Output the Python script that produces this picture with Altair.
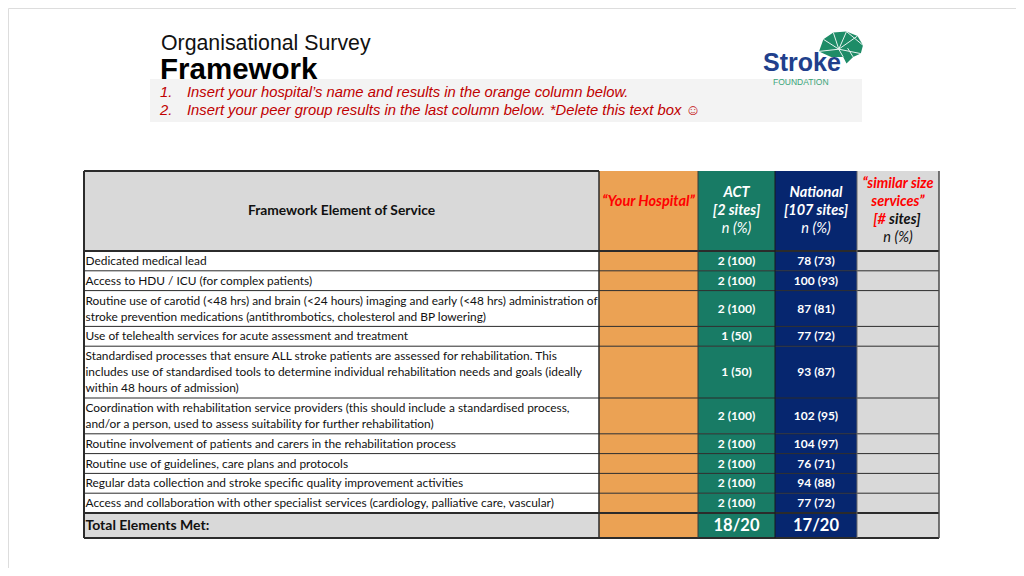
import altair as alt
import pandas as pd

# ---------------- data ----------------
elements = [
    ["Dedicated medical lead"],
    ["Access to HDU / ICU (for complex patients)"],
    ["Routine use of carotid (<48 hrs) and brain (<24 hours) imaging and early (<48 hrs) administration of",
     "stroke prevention medications (antithrombotics, cholesterol and BP lowering)"],
    ["Use of telehealth services for acute assessment and treatment"],
    ["Standardised processes that ensure ALL stroke patients are assessed for rehabilitation. This",
     "includes use of standardised tools to determine individual rehabilitation needs and goals (ideally",
     "within 48 hours of admission)"],
    ["Coordination with rehabilitation service providers (this should include a standardised process,",
     "and/or a person, used to assess suitability for further rehabilitation)"],
    ["Routine involvement of patients and carers in the rehabilitation process"],
    ["Routine use of guidelines, care plans and protocols"],
    ["Regular data collection and stroke specific quality improvement activities"],
    ["Access and collaboration with other specialist services (cardiology, palliative care, vascular)"],
]
act_values = ["2 (100)", "2 (100)", "2 (100)", "1 (50)", "1 (50)",
              "2 (100)", "2 (100)", "2 (100)", "2 (100)", "2 (100)"]
national_values = ["78 (73)", "100 (93)", "87 (81)", "77 (72)", "93 (87)",
                   "102 (95)", "104 (97)", "76 (71)", "94 (88)", "77 (72)"]
total_label = "Total Elements Met:"
total_act = "18/20"
total_national = "17/20"

title_1 = "Organisational Survey"
title_2 = "Framework"
instructions = ["Insert your hospital\u2019s name and results in the orange column below.",
                "Insert your peer group results in the last column below. *Delete this text box \u263A"]

# ---------------- layout ----------------
COL = [84, 599, 698, 775, 857, 939]
HEAD_TOP, HEAD_BOT = 171, 251
LINE_H, ROW_PAD, TOTAL_H = 16, 3.8, 25

ORANGE, GREEN, NAVY, GREY, WHITE = "#EBA254", "#187B65", "#06266F", "#D9D9D9", "#FFFFFF"
RED = "#FF0000"
INSTR_RED = "#C00000"
LINE = "#2b2b2b"
TXT = "Lato"

row_tops, row_bots = [], []
t = HEAD_BOT
for e in elements:
    row_tops.append(t)
    t = t + ROW_PAD + LINE_H * len(e)
    row_bots.append(t)
total_top, total_bot = t, t + TOTAL_H

X = lambda f="x": alt.X(f"{f}:Q", scale=alt.Scale(domain=[8, 1016], nice=False, zero=False), axis=None)
Y = lambda f="y": alt.Y(f"{f}:Q", scale=alt.Scale(domain=[568, 8], nice=False, zero=False), axis=None)

# ---------------- cells ----------------
cells = []
head_fill = [GREY, ORANGE, GREEN, NAVY, GREY]
body_fill = [WHITE, ORANGE, GREEN, NAVY, GREY]
total_fill = [GREY, ORANGE, GREEN, NAVY, GREY]
for c in range(5):
    cells.append(dict(x=COL[c], x2=COL[c + 1], y=HEAD_TOP, y2=HEAD_BOT, fill=head_fill[c]))
    for i in range(len(elements)):
        cells.append(dict(x=COL[c], x2=COL[c + 1], y=row_tops[i], y2=row_bots[i], fill=body_fill[c]))
    cells.append(dict(x=COL[c], x2=COL[c + 1], y=total_top, y2=total_bot, fill=total_fill[c]))
# instruction band
cells.insert(0, dict(x=150, x2=862, y=79, y2=122, fill="#F3F3F3"))

cells_layer = alt.Chart(pd.DataFrame(cells)).mark_rect(strokeWidth=0).encode(
    x=X(), x2="x2:Q", y=Y(), y2="y2:Q", fill=alt.Fill("fill:N", scale=None))

# ---------------- grid lines ----------------
lines = []
lines.append(dict(x=COL[0], x2=COL[1], y=HEAD_TOP, y2=HEAD_TOP, w=2, c=LINE))
lines.append(dict(x=COL[0], x2=COL[5], y=HEAD_BOT, y2=HEAD_BOT, w=2, c=LINE))
for b in row_bots[:-1]:
    lines.append(dict(x=COL[0], x2=COL[5], y=b, y2=b, w=1, c=LINE))
lines.append(dict(x=COL[0], x2=COL[5], y=total_top, y2=total_top, w=2, c=LINE))
lines.append(dict(x=COL[0], x2=COL[5], y=total_bot, y2=total_bot, w=2, c=LINE))
lines.append(dict(x=COL[0], x2=COL[0], y=HEAD_TOP, y2=total_bot, w=2, c=LINE))
lines.append(dict(x=COL[1], x2=COL[1], y=HEAD_TOP, y2=total_bot, w=1.5, c=LINE))
lines.append(dict(x=COL[2], x2=COL[2], y=HEAD_TOP, y2=total_bot, w=1, c="#3a3a3a"))
lines.append(dict(x=COL[3], x2=COL[3], y=HEAD_TOP, y2=total_bot, w=1, c="#1a1a1a"))
lines.append(dict(x=COL[4], x2=COL[4], y=HEAD_TOP, y2=total_bot, w=1, c="#6a6a6a"))
lines.append(dict(x=COL[5], x2=COL[5], y=HEAD_TOP, y2=total_bot, w=1.5, c="#4a4a4a"))

lines_layer = alt.Chart(pd.DataFrame(lines)).mark_rule().encode(
    x=X(), x2="x2:Q", y=Y(), y2="y2:Q",
    strokeWidth=alt.StrokeWidth("w:Q", scale=None),
    color=alt.Color("c:N", scale=None))

# ---------------- body text ----------------
desc_df = pd.DataFrame(dict(
    x=[COL[0] + 1.5] * len(elements),
    y=[(a + b) / 2 - (len(e) - 1) * LINE_H / 2 for a, b, e in zip(row_tops, row_bots, elements)],
    t=elements))
desc_layer = alt.Chart(desc_df).mark_text(
    align="left", baseline="middle", font=TXT, fontSize=11.9, lineHeight=LINE_H, color="#111111"
).encode(x=X(), y=Y(), text="t")

vals = []
for i in range(len(elements)):
    cy = (row_tops[i] + row_bots[i]) / 2
    vals.append(dict(x=(COL[2] + COL[3]) / 2, y=cy, t=act_values[i]))
    vals.append(dict(x=(COL[3] + COL[4]) / 2, y=cy, t=national_values[i]))
vals_layer = alt.Chart(pd.DataFrame(vals)).mark_text(
    align="center", baseline="middle", font=TXT, fontSize=12, fontWeight="bold", color="white"
).encode(x=X(), y=Y(), text="t:N")

tcy = (total_top + total_bot) / 2
totals_df = pd.DataFrame([dict(x=(COL[2] + COL[3]) / 2, y=tcy, t=total_act),
                          dict(x=(COL[3] + COL[4]) / 2, y=tcy, t=total_national)])
totals_layer = alt.Chart(totals_df).mark_text(
    align="center", baseline="middle", font=TXT, fontSize=16.5, fontWeight="bold", color="white"
).encode(x=X(), y=Y(), text="t:N")

total_lbl_layer = alt.Chart(pd.DataFrame([dict(x=COL[0] + 1.5, y=tcy + 0.5, t=total_label)])).mark_text(
    align="left", baseline="middle", font=TXT, fontSize=14, fontWeight="bold", color="#111111"
).encode(x=X(), y=Y(), text="t:N")

# ---------------- header text ----------------
hc = (HEAD_TOP + HEAD_BOT) / 2
head_bold = pd.DataFrame([
    dict(x=(COL[0] + COL[1]) / 2, y=hc, t="Framework Element of Service", c="#111111"),
])
head_bold_layer = alt.Chart(head_bold).mark_text(
    align="center", baseline="middle", font=TXT, fontSize=13.8, fontWeight="bold"
).encode(x=X(), y=Y(), text="t:N", color=alt.Color("c:N", scale=None))

cx = [(COL[i] + COL[i + 1]) / 2 for i in range(5)]
head_bi = pd.DataFrame([
    dict(x=cx[1], y=hc - 9, t="\u201cYour Hospital\u201d", c=RED),
    dict(x=cx[2], y=hc - 18, t="ACT", c="white"),
    dict(x=cx[2], y=hc, t="[2 sites]", c="white"),
    dict(x=cx[3], y=hc - 18, t="National", c="white"),
    dict(x=cx[3], y=hc, t="[107 sites]", c="white"),
    dict(x=cx[4], y=hc - 27, t="\u201csimilar size", c=RED),
    dict(x=cx[4], y=hc - 9, t="services\u201d", c=RED),
])
head_bi_layer = alt.Chart(head_bi).mark_text(
    align="center", baseline="middle", font=TXT, fontSize=14.5, fontWeight="bold", fontStyle="italic"
).encode(x=X(), y=Y(), text="t:N", color=alt.Color("c:N", scale=None))

sites_r = alt.Chart(pd.DataFrame([dict(x=cx[4] - 12, y=hc + 9, t="[#", c=RED)])).mark_text(
    align="right", baseline="middle", font=TXT, fontSize=14.5, fontWeight="bold", fontStyle="italic"
).encode(x=X(), y=Y(), text="t:N", color=alt.Color("c:N", scale=None))
sites_l = alt.Chart(pd.DataFrame([dict(x=cx[4] - 9, y=hc + 9, t="sites]", c="#111111")])).mark_text(
    align="left", baseline="middle", font=TXT, fontSize=14.5, fontWeight="bold", fontStyle="italic"
).encode(x=X(), y=Y(), text="t:N", color=alt.Color("c:N", scale=None))

head_it = pd.DataFrame([
    dict(x=cx[2], y=hc + 18, t="n (%)", c="white"),
    dict(x=cx[3], y=hc + 18, t="n (%)", c="white"),
    dict(x=cx[4], y=hc + 27, t="n (%)", c="#111111"),
])
head_it_layer = alt.Chart(head_it).mark_text(
    align="center", baseline="middle", font=TXT, fontSize=14.5, fontStyle="italic"
).encode(x=X(), y=Y(), text="t:N", color=alt.Color("c:N", scale=None))

# ---------------- title block ----------------
t1 = alt.Chart(pd.DataFrame([dict(x=161, y=50, t=title_1)])).mark_text(
    align="left", baseline="alphabetic", font="Liberation Sans", fontSize=21.3, color="#111111"
).encode(x=X(), y=Y(), text="t:N")
t2 = alt.Chart(pd.DataFrame([dict(x=160, y=79, t=title_2)])).mark_text(
    align="left", baseline="alphabetic", font="Liberation Sans", fontSize=29.5, fontWeight="bold", color="#000000"
).encode(x=X(), y=Y(), text="t:N")
instr_df = pd.DataFrame([
    dict(x=160, y=97, t="1."), dict(x=187, y=97, t=instructions[0]),
    dict(x=160, y=115, t="2."), dict(x=187, y=115, t=instructions[1]),
])
instr = alt.Chart(instr_df).mark_text(
    align="left", baseline="alphabetic", font="Liberation Sans", fontSize=14.8, fontStyle="italic", color=INSTR_RED
).encode(x=X(), y=Y(), text="t:N")

# ---------------- logo ----------------
brain_path = ("M -1 0.2 L -0.8 -0.35 L -0.35 -0.66 L 0.25 -0.7 L 0.75 -0.5 L 1 -0.08 "
              "L 0.9 0.3 L 0.55 0.45 L 0.25 0.75 L 0.1 0.45 L -0.45 0.45 Z")
brain_lines = ("M -0.8 -0.35 L -0.1 0.1 L 0.25 -0.7 M -0.35 -0.66 L -0.1 0.1 L 0.75 -0.5 "
               "M -0.1 0.1 L 0.9 0.3 M -1 0.2 L -0.1 0.1 L 0.1 0.45 M 0.25 -0.7 L 1 -0.08 "
               "M 0.3 0.05 L 0.55 0.45")
logo_pt = pd.DataFrame([dict(x=841, y=47)])
brain = alt.Chart(logo_pt).mark_point(
    shape=brain_path, filled=True, fill="#1E8C67", size=1936, opacity=1, strokeWidth=0
).encode(x=X(), y=Y())
brain_l = alt.Chart(logo_pt).mark_point(
    shape=brain_lines, filled=False, stroke="white", strokeWidth=1, size=1936, opacity=0.9
).encode(x=X(), y=Y())
stroke_txt = alt.Chart(pd.DataFrame([dict(x=763, y=71, t="Stroke")])).mark_text(
    align="left", baseline="alphabetic", font="Liberation Sans", fontSize=25, fontWeight="bold", color="#213F8C"
).encode(x=X(), y=Y(), text="t:N")
found_txt = alt.Chart(pd.DataFrame([dict(x=773, y=85, t="FOUNDATION")])).mark_text(
    align="left", baseline="alphabetic", font="Liberation Sans", fontSize=8.5, color="#3AA57A"
).encode(x=X(), y=Y(), text="t:N")

chart = alt.layer(
    cells_layer, lines_layer, desc_layer, vals_layer, totals_layer, total_lbl_layer,
    head_bold_layer, head_bi_layer, sites_r, sites_l, head_it_layer,
    t1, t2, instr, brain, brain_l, stroke_txt, found_txt,
).properties(
    width=1008, height=560,
    autosize=alt.AutoSizeParams(type="fit", contains="padding"),
    padding=0,
).configure_view(stroke=None).configure(background="white")

chart.save("out.html", embed_options={"renderer": "svg", "actions": False})
